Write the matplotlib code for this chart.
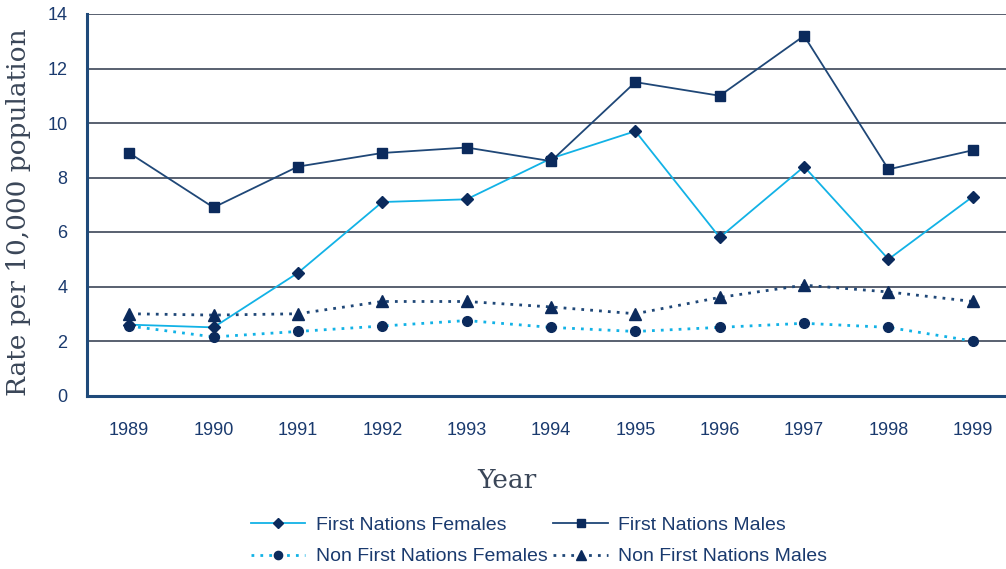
import matplotlib
matplotlib.use("Agg")
import matplotlib.pyplot as plt

years = [1989, 1990, 1991, 1992, 1993, 1994, 1995, 1996, 1997, 1998, 1999]
fn_females = [2.6, 2.5, 4.5, 7.1, 7.2, 8.7, 9.7, 5.8, 8.4, 5.0, 7.3]
fn_males = [8.9, 6.9, 8.4, 8.9, 9.1, 8.6, 11.5, 11.0, 13.2, 8.3, 9.0]
nfn_females = [2.55, 2.15, 2.35, 2.55, 2.75, 2.5, 2.35, 2.5, 2.65, 2.5, 2.0]
nfn_males = [3.0, 2.95, 3.0, 3.45, 3.45, 3.25, 3.0, 3.6, 4.05, 3.8, 3.45]
yticks = [0, 2, 4, 6, 8, 10, 12, 14]

light = "#12b2e6"
dark = "#1f4777"
mk = "#0b2a5c"
tickc = "#1a3a6e"
labc = "#3a4658"

plt.rcParams['font.family'] = ['Liberation Sans', 'DejaVu Sans']

fig = plt.figure(figsize=(10.06, 5.69), dpi=100)
ax = fig.add_axes([87/1006, 1-395.5/569, 928/1006, (395.5-14)/569])

h1, = ax.plot(years, fn_females, color=light, lw=1.3, marker='D', ms=6.5, mfc=mk, mec=mk,
              label='First Nations Females', zorder=4)
h2, = ax.plot(years, fn_males, color=dark, lw=1.3, marker='s', ms=7, mfc=mk, mec=mk,
              label='First Nations Males', zorder=4)
h3, = ax.plot(years, nfn_females, color=light, lw=2, ls=(0, (1, 2.2)), marker='o', ms=7, mfc=mk, mec=mk,
              label='Non First Nations Females', zorder=4)
h4, = ax.plot(years, nfn_males, color=dark, lw=2, ls=(0, (1, 2.2)), marker='^', ms=8, mfc=mk, mec=mk,
              label='Non First Nations Males', zorder=4)

ax.set_xlim(1988.5, 1999.5)
ax.set_ylim(0, 14)
ax.set_yticks(yticks)
ax.set_xticks(years)
ax.set_xticklabels([str(y) for y in years])
ax.yaxis.grid(True, color="#3c4658", lw=1.2)
ax.set_axisbelow(True)
for s in ['top', 'right']:
    ax.spines[s].set_visible(False)
for s in ['left', 'bottom']:
    ax.spines[s].set_color("#1f4a7a")
    ax.spines[s].set_linewidth(2.2)
ax.tick_params(axis='both', length=0, labelsize=13, colors=tickc)
ax.tick_params(axis='x', pad=19)
ax.tick_params(axis='y', pad=14)

fig.text(507/1006, 1-481/569, "Year", ha='center', va='center', fontsize=19,
         family='DejaVu Serif', color=labc)
fig.text(19/1006, 1-212/569, "Rate per 10,000 population", ha='center', va='center',
         fontsize=19, rotation=90, family='DejaVu Serif', color=labc)

handles = [h1, h3, h2, h4]
labels = [h.get_label() for h in handles]
leg = fig.legend(handles, labels, loc='center', bbox_to_anchor=(539/1006, 1-541/569),
                 ncol=2, frameon=False, fontsize=14, handlelength=2.8, columnspacing=0.3,
                 handletextpad=0.55, labelspacing=0.7, labelcolor=tickc, markerscale=0.85)

fig.savefig("out.png", dpi=100)
